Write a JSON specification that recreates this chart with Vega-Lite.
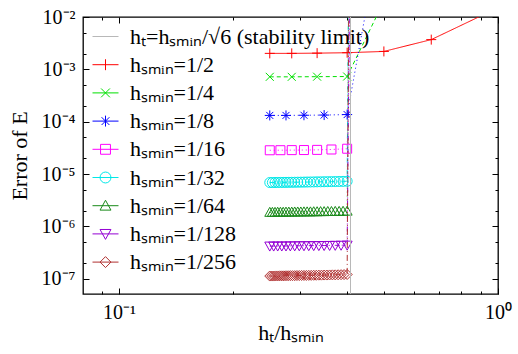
{
  "$schema": "https://vega.github.io/schema/vega-lite/v6.json",
  "width": 415,
  "height": 277,
  "autosize": {"type": "none"},
  "padding": {"left": 83, "top": 17, "right": 20, "bottom": 60},
  "config": {
    "font": "Liberation Serif",
    "view": {"stroke": "black", "strokeWidth": 1.3},
    "axis": {"domain": false, "grid": false, "tickColor": "black", "tickWidth": 1, "labelColor": "black", "titleColor": "black", "labelFont": "Liberation Serif", "titleFont": "Liberation Serif", "labelFontSize": 20, "titleFontSize": 22, "titleFontWeight": "normal", "labelFlush": false, "labelOverlap": false}
  },
  "data": {
    "values": [
      {"s": "1/2", "x": 0.25, "y": 0.00202}, {"s": "1/2", "x": 0.2857, "y": 0.00202}, {"s": "1/2", "x": 0.3333, "y": 0.00204}, {"s": "1/2", "x": 0.4, "y": 0.00208}, {"s": "1/2", "x": 0.5, "y": 0.0022}, {"s": "1/2", "x": 0.6667, "y": 0.0037}, {"s": "1/2", "x": 1.0, "y": 0.015},
      {"s": "1/4", "x": 0.25, "y": 0.00072}, {"s": "1/4", "x": 0.2857, "y": 0.00072}, {"s": "1/4", "x": 0.3333, "y": 0.000725}, {"s": "1/4", "x": 0.4, "y": 0.00073}, {"s": "1/4", "x": 0.5, "y": 0.02},
      {"s": "1/8", "x": 0.25, "y": 0.000132}, {"s": "1/8", "x": 0.2759, "y": 0.000132}, {"s": "1/8", "x": 0.3077, "y": 0.000133}, {"s": "1/8", "x": 0.3478, "y": 0.000134}, {"s": "1/8", "x": 0.4, "y": 0.000137}, {"s": "1/8", "x": 0.4706, "y": 0.09},
      {"s": "1/16", "x": 0.25, "y": 2.85e-5}, {"s": "1/16", "x": 0.2667, "y": 2.86e-5}, {"s": "1/16", "x": 0.2857, "y": 2.87e-5}, {"s": "1/16", "x": 0.3077, "y": 2.88e-5}, {"s": "1/16", "x": 0.3333, "y": 2.9e-5}, {"s": "1/16", "x": 0.3636, "y": 2.95e-5}, {"s": "1/16", "x": 0.4, "y": 3.05e-5}, {"s": "1/16", "x": 0.4444, "y": 1e9},
      {"s": "1/32", "x": 0.25, "y": 6.90e-6}, {"s": "1/32", "x": 0.254, "y": 6.90e-6}, {"s": "1/32", "x": 0.2581, "y": 6.91e-6}, {"s": "1/32", "x": 0.2623, "y": 6.92e-6}, {"s": "1/32", "x": 0.2667, "y": 6.93e-6}, {"s": "1/32", "x": 0.2712, "y": 6.94e-6}, {"s": "1/32", "x": 0.2759, "y": 6.95e-6}, {"s": "1/32", "x": 0.2807, "y": 6.96e-6}, {"s": "1/32", "x": 0.2857, "y": 6.97e-6}, {"s": "1/32", "x": 0.2909, "y": 6.98e-6}, {"s": "1/32", "x": 0.2963, "y": 7.00e-6}, {"s": "1/32", "x": 0.3019, "y": 7.01e-6}, {"s": "1/32", "x": 0.3077, "y": 7.03e-6}, {"s": "1/32", "x": 0.3137, "y": 7.05e-6}, {"s": "1/32", "x": 0.32, "y": 7.07e-6}, {"s": "1/32", "x": 0.3265, "y": 7.09e-6}, {"s": "1/32", "x": 0.3333, "y": 7.11e-6}, {"s": "1/32", "x": 0.3404, "y": 7.13e-6}, {"s": "1/32", "x": 0.3478, "y": 7.15e-6}, {"s": "1/32", "x": 0.3556, "y": 7.17e-6}, {"s": "1/32", "x": 0.3636, "y": 7.19e-6}, {"s": "1/32", "x": 0.3721, "y": 7.21e-6}, {"s": "1/32", "x": 0.381, "y": 7.23e-6}, {"s": "1/32", "x": 0.3902, "y": 7.26e-6}, {"s": "1/32", "x": 0.4, "y": 7.30e-6}, {"s": "1/32", "x": 0.4103, "y": 1e6},
      {"s": "1/64", "x": 0.25, "y": 1.86e-6}, {"s": "1/64", "x": 0.254, "y": 1.86e-6}, {"s": "1/64", "x": 0.2581, "y": 1.86e-6}, {"s": "1/64", "x": 0.2623, "y": 1.87e-6}, {"s": "1/64", "x": 0.2667, "y": 1.87e-6}, {"s": "1/64", "x": 0.2712, "y": 1.87e-6}, {"s": "1/64", "x": 0.2759, "y": 1.88e-6}, {"s": "1/64", "x": 0.2807, "y": 1.88e-6}, {"s": "1/64", "x": 0.2857, "y": 1.88e-6}, {"s": "1/64", "x": 0.2909, "y": 1.89e-6}, {"s": "1/64", "x": 0.2963, "y": 1.89e-6}, {"s": "1/64", "x": 0.3019, "y": 1.89e-6}, {"s": "1/64", "x": 0.3077, "y": 1.90e-6}, {"s": "1/64", "x": 0.3137, "y": 1.90e-6}, {"s": "1/64", "x": 0.32, "y": 1.90e-6}, {"s": "1/64", "x": 0.3265, "y": 1.91e-6}, {"s": "1/64", "x": 0.3333, "y": 1.91e-6}, {"s": "1/64", "x": 0.3404, "y": 1.92e-6}, {"s": "1/64", "x": 0.3478, "y": 1.92e-6}, {"s": "1/64", "x": 0.3556, "y": 1.93e-6}, {"s": "1/64", "x": 0.3636, "y": 1.93e-6}, {"s": "1/64", "x": 0.3721, "y": 1.94e-6}, {"s": "1/64", "x": 0.381, "y": 1.94e-6}, {"s": "1/64", "x": 0.3902, "y": 1.95e-6}, {"s": "1/64", "x": 0.4, "y": 1.96e-6}, {"s": "1/64", "x": 0.4103, "y": 1e6},
      {"s": "1/128", "x": 0.25, "y": 4.22e-7}, {"s": "1/128", "x": 0.256, "y": 4.22e-7}, {"s": "1/128", "x": 0.2623, "y": 4.23e-7}, {"s": "1/128", "x": 0.2689, "y": 4.23e-7}, {"s": "1/128", "x": 0.2759, "y": 4.24e-7}, {"s": "1/128", "x": 0.2832, "y": 4.25e-7}, {"s": "1/128", "x": 0.2909, "y": 4.26e-7}, {"s": "1/128", "x": 0.2991, "y": 4.27e-7}, {"s": "1/128", "x": 0.3077, "y": 4.28e-7}, {"s": "1/128", "x": 0.3168, "y": 4.29e-7}, {"s": "1/128", "x": 0.3265, "y": 4.30e-7}, {"s": "1/128", "x": 0.3368, "y": 4.31e-7}, {"s": "1/128", "x": 0.3478, "y": 4.32e-7}, {"s": "1/128", "x": 0.3596, "y": 4.34e-7}, {"s": "1/128", "x": 0.3721, "y": 4.36e-7}, {"s": "1/128", "x": 0.3855, "y": 4.38e-7}, {"s": "1/128", "x": 0.4, "y": 4.40e-7}, {"s": "1/128", "x": 0.4156, "y": 1e6},
      {"s": "1/256", "x": 0.25, "y": 1.13e-7}, {"s": "1/256", "x": 0.253, "y": 1.13e-7}, {"s": "1/256", "x": 0.256, "y": 1.13e-7}, {"s": "1/256", "x": 0.2591, "y": 1.135e-7}, {"s": "1/256", "x": 0.2623, "y": 1.135e-7}, {"s": "1/256", "x": 0.2656, "y": 1.14e-7}, {"s": "1/256", "x": 0.2689, "y": 1.14e-7}, {"s": "1/256", "x": 0.2723, "y": 1.14e-7}, {"s": "1/256", "x": 0.2759, "y": 1.145e-7}, {"s": "1/256", "x": 0.2795, "y": 1.145e-7}, {"s": "1/256", "x": 0.2832, "y": 1.15e-7}, {"s": "1/256", "x": 0.287, "y": 1.15e-7}, {"s": "1/256", "x": 0.2909, "y": 1.15e-7}, {"s": "1/256", "x": 0.2949, "y": 1.155e-7}, {"s": "1/256", "x": 0.2991, "y": 1.155e-7}, {"s": "1/256", "x": 0.3033, "y": 1.16e-7}, {"s": "1/256", "x": 0.3077, "y": 1.16e-7}, {"s": "1/256", "x": 0.3122, "y": 1.16e-7}, {"s": "1/256", "x": 0.3168, "y": 1.165e-7}, {"s": "1/256", "x": 0.3216, "y": 1.165e-7}, {"s": "1/256", "x": 0.3265, "y": 1.17e-7}, {"s": "1/256", "x": 0.3316, "y": 1.17e-7}, {"s": "1/256", "x": 0.3368, "y": 1.175e-7}, {"s": "1/256", "x": 0.3422, "y": 1.175e-7}, {"s": "1/256", "x": 0.3478, "y": 1.18e-7}, {"s": "1/256", "x": 0.3536, "y": 1.18e-7}, {"s": "1/256", "x": 0.3596, "y": 1.185e-7}, {"s": "1/256", "x": 0.3657, "y": 1.19e-7}, {"s": "1/256", "x": 0.3721, "y": 1.19e-7}, {"s": "1/256", "x": 0.3787, "y": 1.195e-7}, {"s": "1/256", "x": 0.3855, "y": 1.2e-7}, {"s": "1/256", "x": 0.3926, "y": 1.205e-7}, {"s": "1/256", "x": 0.4, "y": 1.21e-7}, {"s": "1/256", "x": 0.41, "y": 1e6}
    ]
  },
  "resolve": {"scale": {"shape": "independent", "color": "independent"}, "axis": {"x": "independent", "y": "independent"}},
  "layer": [
    {
      "mark": {"type": "line", "clip": true, "strokeWidth": 1},
      "encoding": {
        "x": {"field": "x", "type": "quantitative", "scale": {"type": "log", "domain": [0.0804, 1], "nice": false},
          "axis": {"orient": "bottom", "values": [0.09, 0.1, 0.2, 0.3, 0.4, 0.5, 0.6, 0.7, 0.8, 0.9, 1],
            "labelExpr": "abs(log(datum.value)/LN10 - round(log(datum.value)/LN10)) < 1e-6 ? ('10' + (round(log(datum.value)/LN10) < 0 ? '⁻' : '') + ['⁰','¹','²','³','⁴','⁵','⁶','⁷','⁸','⁹'][abs(round(log(datum.value)/LN10))]) : ''",
            "tickSize": {"condition": {"test": "abs(log(datum.value)/LN10 - round(log(datum.value)/LN10)) < 1e-6", "value": -6}, "value": -3},
            "labelPadding": 14, "title": "hₜ/hₛₘᵢₙ", "titleX": 207.5, "titleY": 45, "titleBaseline": "alphabetic"}},
        "y": {"field": "y", "type": "quantitative", "scale": {"type": "log", "domain": [5.13e-8, 0.01], "nice": false},
          "axis": {"orient": "left", "values": [1e-7, 2e-7, 5e-7, 1e-6, 2e-6, 5e-6, 1e-5, 2e-5, 5e-5, 1e-4, 2e-4, 5e-4, 1e-3, 2e-3, 5e-3, 1e-2],
            "labelExpr": "abs(log(datum.value)/LN10 - round(log(datum.value)/LN10)) < 1e-6 ? ('10' + (round(log(datum.value)/LN10) < 0 ? '⁻' : '') + ['⁰','¹','²','³','⁴','⁵','⁶','⁷','⁸','⁹'][abs(round(log(datum.value)/LN10))]) : ''",
            "tickSize": {"condition": {"test": "abs(log(datum.value)/LN10 - round(log(datum.value)/LN10)) < 1e-6", "value": -6}, "value": -3},
            "labelPadding": 14, "title": "Error of E", "titleAngle": -90, "titleX": -74, "titleY": 138.5, "titleBaseline": "top", "titleAlign": "center"}},
        "color": {"field": "s", "type": "nominal", "scale": {"domain": ["stab", "1/2", "1/4", "1/8", "1/16", "1/32", "1/64", "1/128", "1/256"], "range": ["#b8b8b8", "#ff0000", "#00e000", "#0000ff", "#ff00ff", "#00e8e8", "#1a8a1a", "#9400d3", "#b03030"]}, "legend": null},
        "strokeDash": {"field": "s", "type": "nominal", "scale": {"domain": ["1/2", "1/4", "1/8", "1/16", "1/32", "1/64", "1/128", "1/256"], "range": [[1, 0], [4, 3], [1, 3], [1, 3], [5, 3, 1, 3], [1, 3], [5, 2, 1, 2, 1, 2], [6, 3, 1, 3]]}, "legend": null}
      }
    },
    {
      "mark": {"type": "point", "clip": true, "filled": false, "strokeWidth": 1, "opacity": 1, "size": 100},
      "encoding": {
        "x": {"field": "x", "type": "quantitative",
          "axis": {"orient": "top", "values": [0.09, 0.1, 0.2, 0.3, 0.4, 0.5, 0.6, 0.7, 0.8, 0.9, 1], "labels": false, "title": null,
            "tickSize": {"condition": {"test": "abs(log(datum.value)/LN10 - round(log(datum.value)/LN10)) < 1e-6", "value": -6}, "value": -3}}},
        "y": {"field": "y", "type": "quantitative",
          "axis": {"orient": "right", "values": [1e-7, 2e-7, 5e-7, 1e-6, 2e-6, 5e-6, 1e-5, 2e-5, 5e-5, 1e-4, 2e-4, 5e-4, 1e-3, 2e-3, 5e-3, 1e-2], "labels": false, "title": null,
            "tickSize": {"condition": {"test": "abs(log(datum.value)/LN10 - round(log(datum.value)/LN10)) < 1e-6", "value": -6}, "value": -3}}},
        "color": {"field": "s", "type": "nominal", "legend": null, "scale": {"domain": ["stab", "1/2", "1/4", "1/8", "1/16", "1/32", "1/64", "1/128", "1/256"], "range": ["#b8b8b8", "#ff0000", "#00e000", "#0000ff", "#ff00ff", "#00e8e8", "#1a8a1a", "#9400d3", "#b03030"]}},
        "shape": {"field": "s", "type": "nominal", "legend": null,
          "scale": {"domain": ["stab", "1/2", "1/4", "1/8", "1/16", "1/32", "1/64", "1/128", "1/256"],
            "range": ["M0,0", "M-1,0H1M0,-1V1", "M-0.8,-0.8L0.8,0.8M-0.8,0.8L0.8,-0.8", "M-1,0H1M0,-1V1M-0.7,-0.7L0.7,0.7M-0.7,0.7L0.7,-0.7", "M-0.9,-0.9H0.9V0.9H-0.9Z", "M1,0A1,1,0,1,1,-1,0A1,1,0,1,1,1,0Z", "M0,-1L1,0.8L-1,0.8Z", "M0,1L1,-0.8L-1,-0.8Z", "M0,-1L1,0L0,1L-1,0Z"]}}
      }
    },
    {
      "data": {"values": [{"s": "stab", "x": 0.40825}]},
      "mark": {"type": "rule", "strokeWidth": 1, "color": "#b8b8b8"},
      "encoding": {
        "x": {"field": "x", "type": "quantitative", "axis": null}
      }
    },
    {
      "data": {"values": [{"s": "stab"}]},
      "transform": [{"filter": "false"}],
      "mark": {"type": "point", "filled": false, "strokeWidth": 1, "opacity": 1},
      "encoding": {
        "color": {"field": "s", "type": "nominal",
          "scale": {"domain": ["stab", "1/2", "1/4", "1/8", "1/16", "1/32", "1/64", "1/128", "1/256"], "range": ["#b8b8b8", "#ff0000", "#00e000", "#0000ff", "#ff00ff", "#00e8e8", "#1a8a1a", "#9400d3", "#b03030"]},
          "legend": {"orient": "none", "legendX": 9, "legendY": 6, "title": null, "padding": 0, "rowPadding": 3.2, "labelOffset": 11, "labelLimit": 450,
            "labelFont": "Liberation Serif", "labelFontSize": 22, "labelColor": "black", "symbolSize": 676, "symbolStrokeWidth": 1, "symbolFillColor": "transparent", "symbolOpacity": 1,
            "labelExpr": "datum.label == 'stab' ? 'hₜ=hₛₘᵢₙ/√6 (stability limit)' : 'hₛₘᵢₙ=' + datum.label"}},
        "shape": {"field": "s", "type": "nominal",
          "scale": {"domain": ["stab", "1/2", "1/4", "1/8", "1/16", "1/32", "1/64", "1/128", "1/256"],
            "range": ["M-1,0H1", "M-1,0H1M0,-0.42V0.42", "M-1,0H1M-0.34,-0.34L0.34,0.34M-0.34,0.34L0.34,-0.34", "M-1,0H1M0,-0.42V0.42M-0.3,-0.3L0.3,0.3M-0.3,0.3L0.3,-0.3", "M-1,0H1M-0.38,-0.38H0.38V0.38H-0.38Z", "M-1,0H1M0.42,0A0.42,0.42,0,1,1,-0.42,0A0.42,0.42,0,1,1,0.42,0Z", "M-1,0H1M0,-0.42L0.42,0.34L-0.42,0.34Z", "M-1,0H1M0,0.42L0.42,-0.34L-0.42,-0.34Z", "M-1,0H1M0,-0.42L0.42,0L0,0.42L-0.42,0Z"]},
          "legend": {"orient": "none", "legendX": 9, "legendY": 6, "title": null, "padding": 0, "rowPadding": 3.2, "labelOffset": 11, "labelLimit": 450,
            "labelFont": "Liberation Serif", "labelFontSize": 22, "labelColor": "black", "symbolSize": 676, "symbolStrokeWidth": 1, "symbolFillColor": "transparent", "symbolOpacity": 1,
            "labelExpr": "datum.label == 'stab' ? 'hₜ=hₛₘᵢₙ/√6 (stability limit)' : 'hₛₘᵢₙ=' + datum.label"}}
      }
    }
  ]
}
